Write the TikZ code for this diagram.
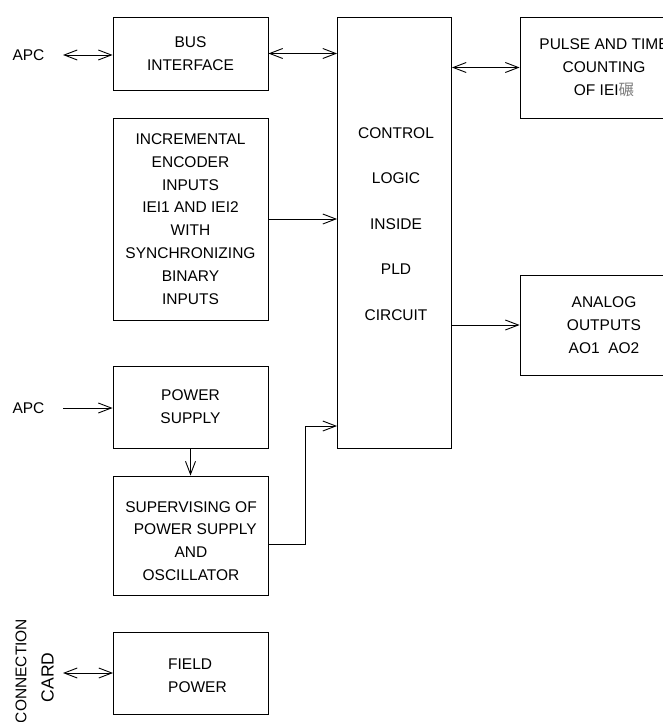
\documentclass[tikz,border=0pt]{standalone}
\usepackage{fontspec}
\setmainfont{Liberation Sans}
\newfontfamily\cjk{Noto Sans CJK SC}
\usetikzlibrary{arrows.meta,calc}

\tikzset{
  blk/.style={draw, line width=0.9pt, inner sep=0pt, align=center,
              font=\fontsize{15.5}{22.8}\selectfont},
  txt/.style={inner sep=0pt, font=\fontsize{15.5}{22.8}\selectfont},
  arr/.style={line width=0.9pt,
              -{Straight Barb[length=13pt,width=10pt,line width=0.9pt]}},
  darr/.style={line width=0.9pt,
              {Straight Barb[length=13pt,width=10pt,line width=0.9pt]}-{Straight Barb[length=13pt,width=10pt,line width=0.9pt]}},
}

\begin{document}
\begin{tikzpicture}[x=1pt,y=-1pt]
  \useasboundingbox (0,0) rectangle (663,722);
  \clip (0,0) rectangle (663,722);

  % function blocks
  \node[blk, minimum width=155pt, minimum height=73pt] (bus) at (190.5,53.5)
    {BUS\\INTERFACE};
  \node[blk, minimum width=155pt, minimum height=202pt] (inc) at (190.5,219)
    {INCREMENTAL\\ENCODER\\INPUTS\\IEI1 AND IEI2\\WITH\\SYNCHRONIZING\\BINARY\\INPUTS};
  \node[blk, minimum width=114pt, minimum height=431pt] (ctl) at (394.5,232.5) {};
  \node[txt, align=center, font=\fontsize{15.5}{45.5}\selectfont] (ctltxt) at (396,224)
    {CONTROL\\LOGIC\\INSIDE\\PLD\\CIRCUIT};
  \node[blk, minimum width=168pt, minimum height=101pt] (pul) at (604,67.5)
    {PULSE AND TIME\\COUNTING\\OF IEI{\cjk\color{gray}碾}};
  \node[blk, minimum width=168pt, minimum height=100pt] (ana) at (604,325)
    {ANALOG\\OUTPUTS\\AO1\ \ AO2};
  \node[blk, minimum width=155pt, minimum height=82pt] (pwr) at (190.5,407)
    {POWER\\SUPPLY};
  \node[blk, minimum width=155pt, minimum height=119pt] (sup) at (190.5,535.5) {};
  \node[txt, align=center] (suptxt) at (191,541)
    {SUPERVISING OF\\\ \ POWER SUPPLY\\AND\\OSCILLATOR};
  \node[blk, minimum width=155pt, minimum height=82pt] (fld) at (191,673) {};
  \node[txt, align=left, anchor=west] (fldtxt) at (168,675.5) {FIELD\\POWER};

  % external labels
  \node[txt] (apc1) at (28.5,55) {APC};
  \node[txt] (apc2) at (28.5,408) {APC};
  \node[txt, rotate=90] (cc1) at (21,671) {CONNECTION};
  \node[txt, rotate=90, font=\fontsize{17.5}{20}\selectfont] (cc2) at (47.5,677.5) {CARD};

  \coordinate (apc1e) at (63,55);
  \coordinate (apc2e) at (63,408);
  \coordinate (cce) at (63,673);
  \coordinate (bend) at (305,426);

  % connectors
  \draw[darr] (apc1e) -- (apc1e -| bus.west);
  \draw[darr] (bus.east) -- (bus.east -| ctl.west);
  \draw[darr] (ctl.east |- pul.west) -- (pul.west);
  \draw[arr] (inc.east) -- (inc.east -| ctl.west);
  \draw[arr] (ctl.east |- ana.west) -- (ana.west);
  \draw[arr] (apc2e) -- (apc2e -| pwr.west);
  \draw[arr] (pwr.south) -- (sup.north);
  \draw[arr] ($(sup.east)+(0,8.5)$) -| (bend) -- (bend -| ctl.west);
  \draw[darr] (cce) -- (cce -| fld.west);
\end{tikzpicture}
\end{document}
